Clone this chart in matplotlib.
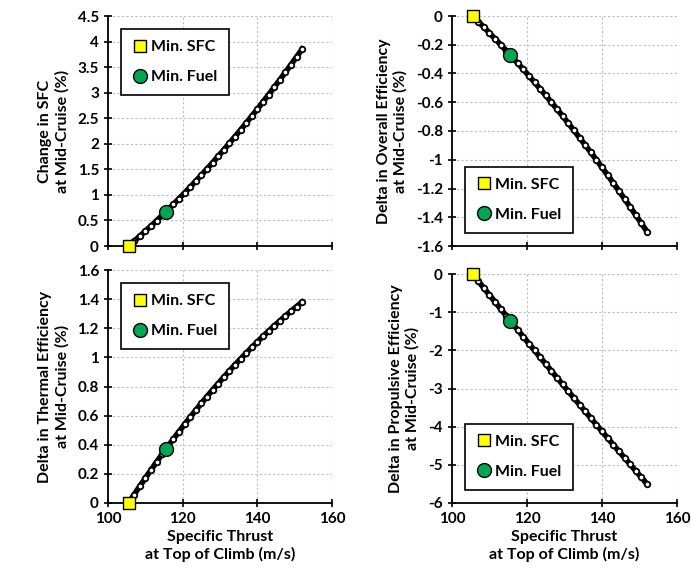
import matplotlib.pyplot as plt
from matplotlib.ticker import FuncFormatter

plt.rcParams['font.family'] = ['Lato', 'DejaVu Sans']
plt.rcParams['font.weight'] = 'bold'

# specific thrust at top of climb (m/s)
spec_thrust = [105.5, 107, 108.5, 110, 111.5, 113, 114.5, 116, 117.5, 119, 120.5,
               122, 123.5, 125, 126.5, 128, 129.5, 131, 132.5, 134, 135.5, 137,
               138.5, 140, 141.5, 143, 144.5, 146, 147.5, 149, 150.5, 152]

d_sfc = [0, 0.095, 0.192, 0.291, 0.392, 0.494, 0.599, 0.706, 0.814, 0.925, 1.038,
         1.153, 1.269, 1.388, 1.508, 1.630, 1.754, 1.881, 2.009, 2.139, 2.271, 2.405,
         2.541, 2.678, 2.818, 2.960, 3.104, 3.249, 3.397, 3.546, 3.699, 3.852]

d_overall = [0, -0.039, -0.078, -0.118, -0.159, -0.200, -0.242, -0.284, -0.328,
             -0.371, -0.416, -0.461, -0.507, -0.553, -0.600, -0.648, -0.696, -0.746,
             -0.795, -0.846, -0.897, -0.948, -1.000, -1.053, -1.107, -1.161, -1.216,
             -1.272, -1.328, -1.385, -1.442, -1.500]

d_thermal = [0, 0.058, 0.115, 0.171, 0.227, 0.281, 0.335, 0.387, 0.439, 0.490, 0.540,
             0.589, 0.637, 0.684, 0.731, 0.776, 0.820, 0.864, 0.907, 0.949, 0.989,
             1.029, 1.068, 1.107, 1.144, 1.180, 1.216, 1.250, 1.284, 1.317, 1.349, 1.380]

d_propulsive = [0, -0.184, -0.368, -0.552, -0.734, -0.917, -1.099, -1.281, -1.462,
                -1.642, -1.822, -2.002, -2.181, -2.360, -2.538, -2.716, -2.894, -3.071,
                -3.247, -3.423, -3.599, -3.774, -3.949, -4.123, -4.297, -4.470, -4.643,
                -4.815, -4.987, -5.158, -5.329, -5.500]

# design points: minimum SFC and minimum fuel burn
min_sfc_x = 105.5
min_fuel_x = 115.5
min_sfc_y = [0, 0, 0, 0]
min_fuel_y = [0.67, -0.27, 0.37, -1.22]

ylabels = ["Change in SFC\nat Mid-Cruise (%)",
           "Delta in Overall Efficiency\nat Mid-Cruise (%)",
           "Delta in Thermal Efficiency\nat Mid-Cruise (%)",
           "Delta in Propulsive Efficiency\nat Mid-Cruise (%)"]
ylims = [(0, 4.5), (-1.6, 0), (0, 1.6), (-6, 0)]
ysteps = [0.5, 0.2, 0.2, 1]
legend_loc = ["upper left", "lower left", "upper left", "lower left"]
series = [d_sfc, d_overall, d_thermal, d_propulsive]

fig = plt.figure(figsize=(6.91, 5.81), dpi=100)
W, H = 691, 581
boxes = [(108, 16, 332, 246), (452, 16, 677, 246),
         (108, 270, 332, 503), (452, 274, 677, 503)]

fmt = FuncFormatter(lambda v, p: "{:g}".format(round(v, 2)))

for i, (x0, y0, x1, y1) in enumerate(boxes):
    ax = fig.add_axes([x0 / W, 1 - y1 / H, (x1 - x0) / W, (y1 - y0) / H])
    ax.plot(spec_thrust, series[i], color='black', lw=4, zorder=3,
            marker='o', ms=4, mfc='white', mec='black', mew=1.3)
    ax.plot(min_sfc_x, min_sfc_y[i], ls='none', marker='s', ms=9, mfc='#ffff00',
            mec='black', mew=1, zorder=5, label='Min. SFC', clip_on=False)
    ax.plot(min_fuel_x, min_fuel_y[i], ls='none', marker='o', ms=10, mfc='#00a651',
            mec='black', mew=1, zorder=5, label='Min. Fuel', clip_on=False)

    ax.set_xlim(100, 160)
    ax.set_xticks([100, 120, 140, 160])
    lo, hi = ylims[i]
    ax.set_ylim(lo, hi)
    n = int(round((hi - lo) / ysteps[i]))
    ax.set_yticks([lo + k * ysteps[i] for k in range(n + 1)])
    ax.yaxis.set_major_formatter(fmt)

    ax.grid(True, color='#bdbdbd', ls=(0, (2, 2)), lw=0.8)
    ax.set_axisbelow(True)
    for s in ['top', 'right']:
        ax.spines[s].set_visible(False)
    for s in ['left', 'bottom']:
        ax.spines[s].set_linewidth(1.3)
    ax.tick_params(direction='inout', length=6, width=1.2, labelsize=11)

    if i < 2:
        ax.tick_params(axis='x', labelbottom=False)
    else:
        ax.set_xlabel("Specific Thrust\nat Top of Climb (m/s)", fontsize=11.5,
                      fontweight='bold', labelpad=3)
    ax.set_ylabel(ylabels[i], fontsize=11.5, fontweight='bold', labelpad=6)

    leg = ax.legend(loc=legend_loc[i], fontsize=11.5, fancybox=False, framealpha=1,
                    edgecolor='black', labelspacing=1.0, handletextpad=0.2,
                    handlelength=1.0, borderpad=0.7, borderaxespad=0.8)
    leg.get_frame().set_linewidth(1.2)

fig.savefig("out.png", dpi=100)
